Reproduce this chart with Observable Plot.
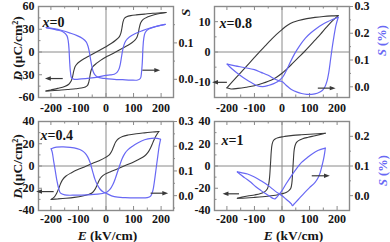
<!DOCTYPE html>
<html><head><meta charset="utf-8">
<script src="https://cdn.jsdelivr.net/npm/d3@7"></script>
<script src="https://cdn.jsdelivr.net/npm/@observablehq/plot@0.6"></script>
<style>
body{margin:0;background:#fff;}
#wrap{position:relative;width:390px;height:242px;overflow:hidden;background:#fff;}
#wrap svg{position:absolute;left:0;top:0;}
</style></head><body><div id="wrap"></div><script>
// ---------- DATA ----------
// x = 0
const E0_Ddown = [218,200,170,140,110,90,75,67,62,58,54,48,35,20,0,-20,-40,-60,-80,-95,-105,-112,-117,-121,-126,-135,-150,-175,-200,-218];
const D0_down  = [52,51.6,51,50,49,48,46.5,44.5,40,32,25,20,15.5,11.5,7,3,-1,-5,-9,-12.5,-15.5,-19,-25,-32,-38,-42.5,-45.5,-48,-50,-51.5];
const E0_Dup   = [-218,-200,-170,-140,-110,-90,-75,-67,-62,-58,-54,-48,-35,-20,0,20,40,60,80,95,105,112,117,121,126,135,150,175,200,218];
const D0_up    = [-51.5,-51,-50.5,-49.5,-48.5,-47.5,-46,-44,-39,-31,-24,-19.5,-15,-11,-6.5,-3,1,5,9,12.5,15.5,19,25,32,38.5,43,46,49,51,52];
const E0_Sa = [215,190,160,130,105,85,72,65,60,56,52,47,40,30,15,0,-30,-60,-90,-115,-125,-129,-132,-134,-137,-142,-155,-180,-217];
const S0_a  = [0.151,0.147,0.141,0.133,0.125,0.116,0.106,0.094,0.078,0.06,0.042,0.028,0.019,0.014,0.012,0.011,0.006,0.003,0.001,0.0,0.004,0.02,0.05,0.08,0.105,0.12,0.13,0.136,0.142];
const E0_Sb = [-217,-190,-160,-130,-105,-85,-72,-65,-60,-56,-52,-47,-40,-30,-15,0,30,60,90,115,125,129,132,134,137,142,155,180,215];
const S0_b  = [0.142,0.139,0.134,0.127,0.12,0.112,0.103,0.09,0.073,0.055,0.038,0.022,0.012,0.006,0.003,0.002,0.0,-0.001,-0.002,-0.002,0.003,0.02,0.05,0.085,0.112,0.128,0.138,0.145,0.151];
// x = 0.8
const E08_Ddown = [204,180,150,120,90,60,40,20,0,-20,-40,-60,-80,-100,-120,-140,-160,-180,-200];
const D08_down  = [12,11.9,11.7,11.4,11.0,10.4,9.8,8.8,7.4,5.8,4.0,2.1,0.2,-1.8,-3.8,-5.8,-7.8,-9.8,-11.8];
const E08_Dup   = [-200,-185,-160,-130,-100,-70,-40,-20,0,20,40,60,80,100,120,140,160,180,204];
const D08_up    = [-11.8,-12.2,-12.0,-11.6,-11.1,-10.3,-9.3,-8.3,-7.0,-5.4,-3.6,-1.8,0.0,1.9,3.9,5.9,8.0,10.0,12.0];
const E08_Sa = [204,185,165,145,125,105,85,65,45,30,18,8,0,-15,-30,-50,-70,-90,-110,-130,-150,-170,-190,-199];
const S08_a  = [0.26,0.252,0.243,0.232,0.218,0.202,0.182,0.155,0.122,0.092,0.065,0.045,0.033,0.02,0.012,0.005,0.001,0.004,0.015,0.027,0.041,0.057,0.075,0.085];
const E08_Sb = [-199,-170,-137,-100,-76,-50,-27,-10,0,15,34,55,71,90,108,128,145,155,163,170,176,182,188,196,204];
const S08_b  = [0.085,0.078,0.072,0.064,0.054,0.043,0.029,0.022,0.02,0.006,-0.01,-0.02,-0.025,-0.028,-0.028,-0.024,-0.015,-0.002,0.02,0.055,0.1,0.145,0.185,0.23,0.26];
// x = 0.4
const E04_Ddown = [192,170,140,110,80,60,45,35,27,20,12,0,-25,-50,-75,-100,-125,-145,-158,-166,-173,-180,-188,-199];
const D04_down  = [31,30.5,29.8,29,27.8,26.5,24.5,21.5,17,13,10,8,4.8,2.2,-0.4,-3,-6,-9,-12.5,-16.5,-21,-25,-28,-30];
const E04_Dup   = [-199,-175,-145,-115,-85,-65,-50,-40,-32,-25,-17,-5,20,45,70,95,120,140,153,162,170,177,185,192];
const D04_up    = [-30,-29.6,-29,-28.2,-27,-25.7,-24,-21,-17,-13,-10,-7.5,-4.8,-2.2,0.4,3,6,9,12.5,16.5,21,25,28.5,31];
const E04_Sa = [198,185,165,140,115,95,80,68,58,50,42,34,25,15,5,0,-30,-70,-110,-150,-165,-172,-178,-184,-190,-195,-199];
const S04_a  = [0.228,0.232,0.232,0.226,0.213,0.199,0.186,0.17,0.148,0.123,0.097,0.07,0.045,0.026,0.016,0.013,0.006,0.003,0.002,0.003,0.01,0.03,0.06,0.1,0.14,0.175,0.19];
const E04_Sb = [-199,-180,-155,-130,-105,-88,-76,-66,-58,-52,-46,-40,-32,-22,-10,0,30,70,110,150,162,170,176,182,188,193,198];
const S04_b  = [0.19,0.196,0.197,0.195,0.19,0.183,0.172,0.156,0.135,0.112,0.088,0.066,0.045,0.027,0.015,0.01,-0.004,-0.008,-0.009,-0.008,-0.002,0.02,0.06,0.11,0.16,0.2,0.228];
// x = 1
const E1_Ddown = [157,130,100,70,40,10,0,-15,-25,-32,-36,-39,-41,-43,-45,-48,-53,-62,-80,-100,-125,-145,-162];
const D1_down  = [29.5,29,28.6,28.1,27.5,26.6,26.2,25.3,24.2,22.5,19.5,13,5,-3,-10,-16,-20.5,-23,-25,-26,-27,-28,-29];
const E1_Dup   = [-162,-130,-100,-70,-40,-10,0,15,25,32,36,38,40,42,44,47,52,60,75,95,120,140,157];
const D1_up    = [-29,-28.7,-28.2,-27.6,-26.8,-25.6,-25,-23.8,-22.2,-20,-15,-8,0,8,14,18,21,22.8,24.5,25.8,27.2,28.4,29.5];
const E1_Sa = [157,130,108,90,71,50,34,15,0,-12,-22,-27,-33,-45,-60,-76,-95,-113,-135,-162];
const S1_a  = [0.16,0.152,0.14,0.127,0.112,0.088,0.067,0.04,0.017,0.003,-0.008,-0.011,-0.009,-0.002,0.007,0.017,0.03,0.045,0.06,0.08];
const E1_Sb = [-162,-145,-125,-100,-76,-50,-27,-10,0,15,28,34,38,42,47,60,83,100,120,132,139,145,151,155,157];
const S1_b  = [0.08,0.077,0.073,0.063,0.05,0.034,0.017,0.006,0.0,-0.012,-0.022,-0.028,-0.034,-0.03,-0.025,-0.012,0.011,0.027,0.045,0.062,0.079,0.1,0.124,0.145,0.16];

// ticks and labels
const xTicks = [-200,-100,0,100,200];
const xMinor = [-150,-50,50,150];
const dTicks0 = [-60,-30,0,30,60],  dMinor0 = [-45,-15,15,45];
const dTicks08 = [-10,0,10],        dMinor08 = [-5,5];
const dTicks04 = [-40,-20,0,20,40], dMinor04 = [-30,-10,10,30];
const dTicks1 = [-40,-20,0,20,40],  dMinor1 = [-30,-10,10,30];
const sTicks0 = [0,0.1],            sMinor0 = [0.05,0.15];
const sTicks08 = [0,0.1,0.2,0.3],   sMinor08 = [0.05,0.15,0.25];
const sTicks04 = [0,0.1,0.2,0.3],   sMinor04 = [-0.05,0.05,0.15,0.25];
const sTicks1 = [0,0.1,0.2],        sMinor1 = [0.05,0.15];
const panelNames = ["x=0","x=0.8","x=0.4","x=1"];
const dLabel = "D (μC/cm²)", eLabel = "E (kV/cm)", sLabel = "S (%)", sShort = "S";
// arrows: [E start, E end, value]
const arrD0 = [-157,-211,-35],  arrS0 = [132,186,0.025];
const arrD08 = [-200,-243,-10], arrS08 = [130,184,-0.005];
const arrD04 = [-190,-243,-23], arrS04 = [162,215,0.01];
const arrD1 = [-156,-205,-25],  arrS1 = [108,163,0.067];

// ---------- STYLE / LAYOUT ----------
const W = 390, H = 242;
const FONT = "'Liberation Serif','Times New Roman',serif";
const GRAY = "#8a8a8a", DARK = "#3a3a3a", BLUE = "#6868f4", TXT = "#151515";
const xDomain = [-245,245];
const STYLE = {background:"transparent", fontFamily:FONT, fontSize:"12px", fontWeight:"bold", color:TXT, overflow:"visible"};

const panels = [
  {L:{l:38,r:173,t:6,b:97}, dDom:[-60,60], sDom:[-0.05,0.2],
   D:[[E0_Ddown,D0_down],[E0_Dup,D0_up]], S:[[E0_Sa,S0_a],[E0_Sb,S0_b]],
   dT:dTicks0, dM:dMinor0, sT:sTicks0, sM:sMinor0, arrD:arrD0, arrS:arrS0, name:panelNames[0],
   nameAt:[42,17], xPad:6, texts:[{t:dLabel,x:12,y:48,r:-90},{t:sShort,x:180,y:12,r:-90}]},
  {L:{l:214,r:349,t:6,b:97}, dDom:[-15,15], sDom:[-0.04,0.3],
   D:[[E08_Ddown,D08_down],[E08_Dup,D08_up]], S:[[E08_Sa,S08_a],[E08_Sb,S08_b]],
   dT:dTicks08, dM:dMinor08, sT:sTicks08, sM:sMinor08, arrD:arrD08, arrS:arrS08, name:panelNames[1],
   nameAt:[219,18], xPad:6, texts:[], stexts:[{t:sLabel,x:377,y:40,r:-90}]},
  {L:{l:38,r:173,t:121,b:210}, dDom:[-40,40], sDom:[-0.06,0.3],
   D:[[E04_Ddown,D04_down],[E04_Dup,D04_up]], S:[[E04_Sa,S04_a],[E04_Sb,S04_b]],
   dT:dTicks04, dM:dMinor04, sT:sTicks04, sM:sMinor04, arrD:arrD04, arrS:arrS04, name:panelNames[2],
   nameAt:[40,130], xPad:4, texts:[{t:dLabel,x:12,y:166,r:-90},{t:eLabel,x:107,y:230,r:0}]},
  {L:{l:214,r:349,t:121,b:210}, dDom:[-40,40], sDom:[-0.05,0.25],
   D:[[E1_Ddown,D1_down],[E1_Dup,D1_up]], S:[[E1_Sa,S1_a],[E1_Sb,S1_b]],
   dT:dTicks1, dM:dMinor1, sT:sTicks1, sM:sMinor1, arrD:arrD1, arrS:arrS1, name:panelNames[3],
   nameAt:[221,135], xPad:4, texts:[{t:eLabel,x:293,y:230,r:0}], stexts:[{t:sLabel,x:378,y:170,r:-90}]}
];

const RICH = {
  "D (μC/cm²)":[["D",1],[" (μC/cm²)",0]],
  "E (kV/cm)":[["E",1],[" (kV/cm)",0]],
  "S (%)":[["S",1],[" (%)",0]],
  "S":[["S",1]],
  "x=0":[["x",1],["=0",0]], "x=0.8":[["x",1],["=0.8",0]],
  "x=0.4":[["x",1],["=0.4",0]], "x=1":[["x",1],["=1",0]]
};
function rich(svg){
  svg.querySelectorAll("text").forEach(t=>{
    if (!t.closest("[aria-label='text']")) return;
    const parts = RICH[t.textContent]; if(!parts) return;
    t.textContent = "";
    for (const [s,it] of parts){
      const ts = document.createElementNS("http://www.w3.org/2000/svg","tspan");
      if (it) ts.setAttribute("font-style","italic");
      ts.textContent = s; t.appendChild(ts);
    }
  });
}

const triR = {draw(c,size){const s=Math.sqrt(size); c.moveTo(s*0.55,0); c.lineTo(-s*0.55,-s*0.42); c.lineTo(-s*0.55,s*0.42); c.closePath();}};
const triL = {draw(c,size){const s=Math.sqrt(size); c.moveTo(-s*0.55,0); c.lineTo(s*0.55,-s*0.42); c.lineTo(s*0.55,s*0.42); c.closePath();}};

function rows(pairs){ return pairs.flatMap(([E,V],k)=>E.map((e,i)=>({E:e, v:V[i], z:k}))); }
function arrowMarks(a){
  const d=[{e1:a[0], e2:a[1], v:a[2]}];
  return [
    Plot.link(d,{x1:"e1",x2:"e2",y1:"v",y2:"v",stroke:DARK,strokeWidth:1.2}),
    Plot.dot(d,{x:"e2",y:"v",r:3,symbol:a[1]<a[0]?triL:triR,fill:DARK,stroke:"none"})
  ];
}
function textMarks(list, L, fill, size){
  return list.map(o=>Plot.text([o],{frameAnchor:"top-left", dx:o.x-L.l, dy:o.y-L.t, text:"t",
    rotate:o.r, textAnchor:"middle", fontSize:size, fill}));
}

const wrap = document.getElementById("wrap");
for (const P of panels){
  const L = P.L, pw = L.r-L.l, ph = L.b-L.t;
  const common = {width:W, height:H, marginLeft:L.l, marginRight:W-L.r, marginTop:L.t, marginBottom:H-L.b, style:STYLE};
  const dPlot = Plot.plot({...common,
    x:{domain:xDomain}, y:{domain:P.dDom},
    marks:[
      Plot.ruleY([0],{stroke:GRAY,strokeWidth:1}),
      Plot.ruleX([0],{stroke:GRAY,strokeWidth:1}),
      Plot.line(rows(P.D),{x:"E",y:"v",z:"z",stroke:DARK,strokeWidth:1.1,curve:"catmull-rom"}),
      Plot.frame({stroke:GRAY,strokeWidth:1.4}),
      Plot.tickX(xTicks,{x:d=>d,insetTop:ph-4,stroke:GRAY}),
      Plot.tickX(xMinor,{x:d=>d,insetTop:ph-2.5,stroke:GRAY}),
      Plot.tickX(xTicks,{x:d=>d,insetBottom:ph-4,stroke:GRAY}),
      Plot.tickX(xMinor,{x:d=>d,insetBottom:ph-2.5,stroke:GRAY}),
      Plot.tickY(P.dT,{y:d=>d,insetRight:pw-4,stroke:GRAY}),
      Plot.tickY(P.dM,{y:d=>d,insetRight:pw-2.5,stroke:GRAY}),
      Plot.axisX({ticks:xTicks, tickSize:0, tickPadding:P.xPad, tickFormat:d=>String(d), label:null, fill:TXT}),
      Plot.axisY({ticks:P.dT, tickSize:0, tickPadding:4, tickFormat:d=>String(d), label:null, fill:TXT}),
      ...arrowMarks(P.arrD),
      Plot.text([P.name],{frameAnchor:"top-left", dx:P.nameAt[0]-L.l, dy:P.nameAt[1]-L.t, textAnchor:"start", fontSize:14, fill:TXT}),
      ...textMarks(P.texts, L, TXT, 13.5)
    ]});
  const sPlot = Plot.plot({...common,
    x:{domain:xDomain, axis:null}, y:{domain:P.sDom},
    marks:[
      Plot.line(rows(P.S),{x:"E",y:"v",z:"z",stroke:BLUE,strokeWidth:1.2,curve:"catmull-rom"}),
      Plot.axisY({anchor:"right", ticks:P.sT, tickSize:3, tickPadding:2, tickFormat:d=>d.toFixed(1), label:null, stroke:GRAY, fill:TXT}),
      Plot.tickY(P.sM,{y:d=>d,insetLeft:pw,insetRight:-2,stroke:GRAY}),
      ...arrowMarks(P.arrS),
      ...textMarks(P.stexts||[], L, BLUE, 12.5)
    ]});
  rich(dPlot); rich(sPlot);
  wrap.appendChild(dPlot); wrap.appendChild(sPlot);
}
</script></body></html>
